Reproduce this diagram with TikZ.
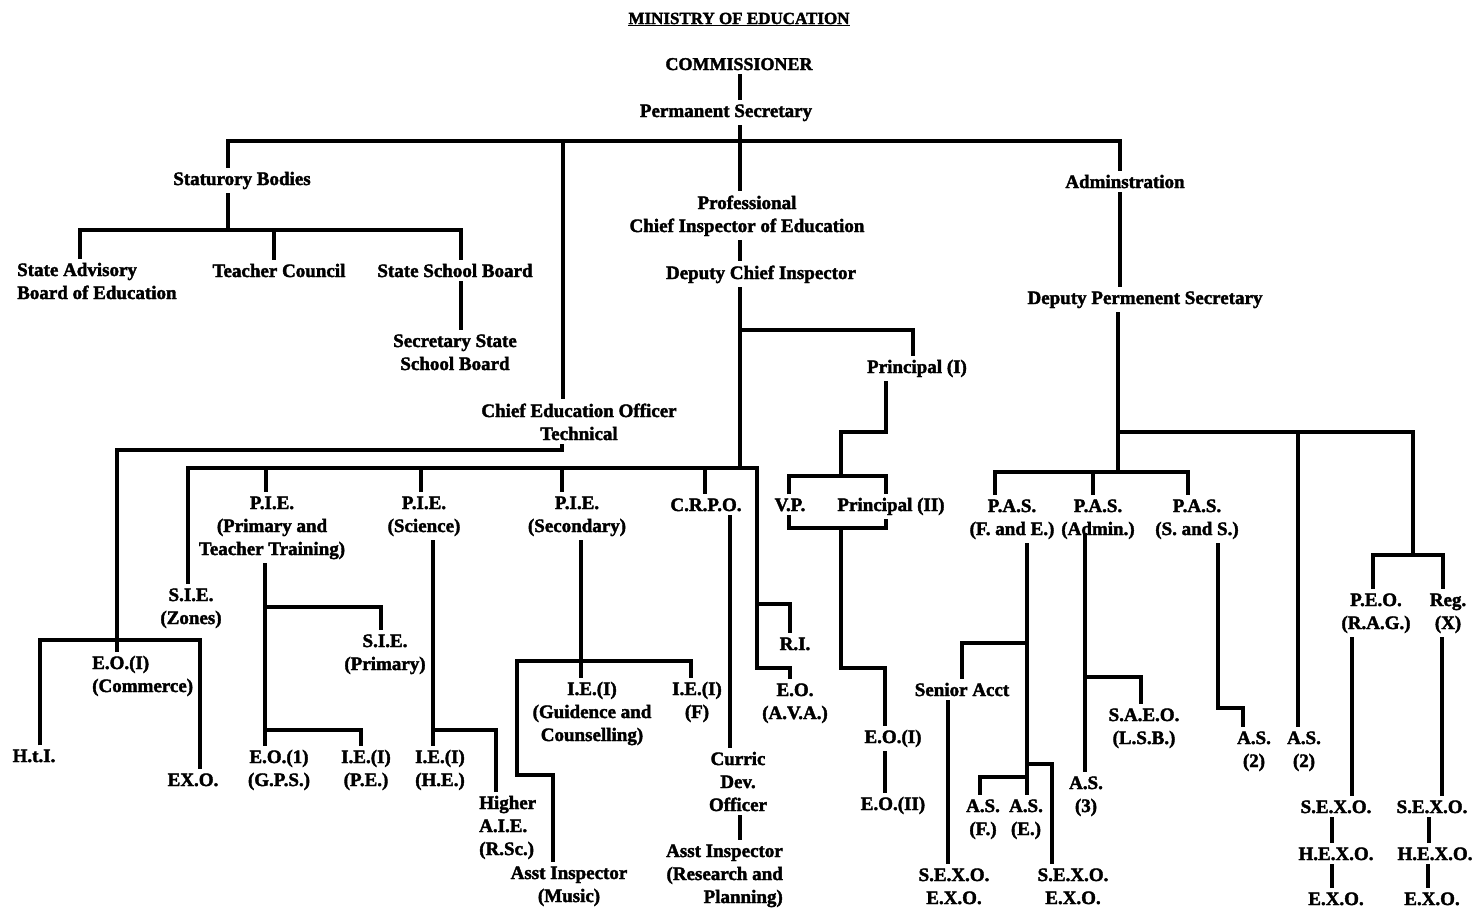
\documentclass[tikz,border=0pt]{standalone}
\usepackage{fontspec}
\setmainfont{Liberation Serif}[BoldFeatures={FakeBold=2}]
\begin{document}
\begin{tikzpicture}[x=1pt,y=-1pt,
  lbl/.style={font=\fontsize{19}{23}\selectfont\bfseries, inner xsep=2pt, inner ysep=4pt, anchor=base, align=center},
  lblL/.style={lbl, anchor=base west, align=left},
  lblR/.style={lbl, anchor=base east, align=right},
  ln/.style={line width=3.2pt, line join=miter}]
\useasboundingbox (0,0) rectangle (1476,908);

% Multi-line labels are placed by the baseline of their last line.

% ---------- top of the chart ----------
\node[font=\fontsize{17}{20}\selectfont\bfseries, inner sep=0pt, anchor=base] (title) at (739,24) {\underline{MINISTRY OF EDUCATION}};
\node[lbl, font=\fontsize{18}{22}\selectfont\bfseries] (comm) at (739,70) {COMMISSIONER};
\node[lbl] (ps)   at (726,117) {Permanent Secretary};
\node[lbl] (stat) at (242,185) {Staturory Bodies};
\node[lbl] (prof) at (747,232) {Professional\\Chief Inspector of Education};
\node[lbl] (dci)  at (761,279) {Deputy Chief Inspector};
\node[lbl] (admn) at (1125,188) {Adminstration};
\node[lbl] (dps)  at (1145,304) {Deputy Permenent Secretary};

% ---------- statutory bodies ----------
\node[lblL] (sabe) at (15,299) {State Advisory\\Board of Education};
\node[lbl] (tc)   at (279,277) {Teacher Council};
\node[lbl] (ssb)  at (455,277) {State School Board};
\node[lbl] (sssb) at (455,370) {Secretary State\\School Board};

% ---------- technical education ----------
\node[lbl]  (ceo) at (579,440) {Chief Education Officer\\Technical};
\node[lblL] (eoc) at (90,692) {E.O.(I)\\(Commerce)};
\node[lbl]  (hti) at (34,762) {H.t.I.};
\node[lbl]  (exo) at (193,786) {EX.O.};

% ---------- inspectorate ----------
\node[lbl] (siez)  at (191,624) {S.I.E.\\(Zones)};
\node[lbl] (pie1)  at (272,555) {P.I.E.\\(Primary and\\Teacher Training)};
\node[lbl] (pie2)  at (424,532) {P.I.E.\\(Science)};
\node[lbl] (pie3)  at (577,532) {P.I.E.\\(Secondary)};
\node[lbl] (crpo)  at (706,511) {C.R.P.O.};
\node[lbl] (siep)  at (385,670) {S.I.E.\\(Primary)};
\node[lbl] (eogps) at (279,786) {E.O.(1)\\(G.P.S.)};
\node[lbl] (iepe)  at (366,786) {I.E.(I)\\(P.E.)};
\node[lbl] (iehe)  at (440,786) {I.E.(I)\\(H.E.)};
\node[lblL] (haie) at (477,855) {Higher\\A.I.E.\\(R.Sc.)};
\node[lbl] (iegc)  at (592,741) {I.E.(I)\\(Guidence and\\Counselling)};
\node[lbl] (ief)   at (697,718) {I.E.(I)\\(F)};
\node[lbl] (aim)   at (569,902) {Asst Inspector\\(Music)};
\node[lbl] (ri)    at (795,650) {R.I.};
\node[lbl] (eoava) at (795,719) {E.O.\\(A.V.A.)};
\node[lbl] (cdo)   at (738,811) {Curric\\Dev.\\Officer};
\node[lblR] (airp) at (785,903) {Asst Inspector\\(Research and\\Planning)};

% ---------- principals ----------
\node[lbl] (p1)  at (917,373) {Principal (I)};
\node[lbl] (vp)  at (790,511) {V.P.};
\node[lbl] (p2)  at (891,511) {Principal (II)};
\node[lbl] (eo1) at (893,743) {E.O.(I)};
\node[lbl] (eo2) at (893,810) {E.O.(II)};

% ---------- administration ----------
\node[lbl] (pasfe) at (1012,535) {P.A.S.\\(F. and E.)};
\node[lbl] (pasad) at (1098,535) {P.A.S.\\(Admin.)};
\node[lbl] (passs) at (1197,535) {P.A.S.\\(S. and S.)};
\node[lbl] (sa)    at (962,696) {Senior Acct};
\node[lbl] (asf)   at (983,835) {A.S.\\(F.)};
\node[lbl] (ase)   at (1026,835) {A.S.\\(E.)};
\node[lbl] (sxa)   at (954,904) {S.E.X.O.\\E.X.O.};
\node[lbl] (sxb)   at (1073,904) {S.E.X.O.\\E.X.O.};
\node[lbl] (saeo)  at (1144,744) {S.A.E.O.\\(L.S.B.)};
\node[lbl] (as3)   at (1086,812) {A.S.\\(3)};
\node[lbl] (as2a)  at (1254,767) {A.S.\\(2)};
\node[lbl] (as2b)  at (1304,767) {A.S.\\(2)};
\node[lbl] (peo)   at (1376,629) {P.E.O.\\(R.A.G.)};
\node[lbl] (reg)   at (1448,629) {Reg.\\(X)};
\node[lbl] (sx1)   at (1336,813) {S.E.X.O.};
\node[lbl] (hx1)   at (1336,860) {H.E.X.O.};
\node[lbl] (ex1)   at (1336,905) {E.X.O.};
\node[lbl] (sx2)   at (1432,813) {S.E.X.O.};
\node[lbl] (hx2)   at (1435,860) {H.E.X.O.};
\node[lbl] (ex2)   at (1432,905) {E.X.O.};

\coordinate (admtap) at (1085,533);

% ---------- connectors ----------
\draw[ln] (comm.south -| 740,0) -- (ps.north -| 740,0);
\draw[ln] (ps.south -| 740,0) -- (prof.north -| 740,0);
\draw[ln] (stat.north -| 228,0) -- (228,141) -- (1120,141) -- (admn.north -| 1120,0);
\draw[ln] (563,141) -- (ceo.north -| 563,0);

\draw[ln] (stat.south -| 228,0) -- (228,230);
\draw[ln] (sabe.north -| 80,0) |- (461,230) -- (ssb.north -| 461,0);
\draw[ln] (274,230) -- (tc.north -| 274,0);
\draw[ln] (ssb.south -| 461,0) -- (sssb.north -| 461,0);

\draw[ln] (prof.south -| 740,0) -- (dci.north -| 740,0);
\draw[ln] (dci.south -| 740,0) -- (740,468);
\draw[ln] (740,330) -| (p1.north -| 913,0);
\draw[ln] (siez.north -| 188,0) |- (757,468) -- (757,668) -| (eoava.north -| 790,0);
\draw[ln] (757,604) -| (ri.north -| 790,0);
\draw[ln] (266,468) -- (pie1.north -| 266,0);
\draw[ln] (421,468) -- (pie2.north -| 421,0);
\draw[ln] (562,468) -- (pie3.north -| 562,0);
\draw[ln] (705,468) -- (crpo.north -| 705,0);

% principals
\draw[ln] (p1.south -| 886,0) |- (841,432) -- (841,476);
\draw[ln] (vp.north -| 789,0) |- (886,476) -- (p2.north -| 886,0);
\draw[ln] (vp.south -| 789,0) |- (886,528) -- (p2.south -| 886,0);
\draw[ln] (841,528) -- (841,668) -| (eo1.north -| 885,0);
\draw[ln] (eo1.south -| 885,0) -- (eo2.north -| 885,0);

% technical
\draw[ln] (ceo.south -| 562,0) |- (117,450) -- (eoc.north -| 117,0);
\draw[ln] (hti.north -| 40,0) |- (200,640) -- (exo.north -| 200,0);

% primary and teacher training
\draw[ln] (pie1.south -| 265,0) -- (eogps.north -| 265,0);
\draw[ln] (265,607) -| (siep.north -| 381,0);
\draw[ln] (265,730) -| (iepe.north -| 361,0);
% science
\draw[ln] (pie2.south -| 433,0) -- (iehe.north -| 433,0);
\draw[ln] (433,730) -| (haie.north -| 496,0);
% secondary
\draw[ln] (pie3.south -| 581,0) -- (iegc.north -| 581,0);
\draw[ln] (ief.north -| 691,0) |- (517,661) |- (553,775) -- (aim.north -| 553,0);
% curriculum
\draw[ln] (crpo.south -| 730,0) -- (cdo.north -| 730,0);
\draw[ln] (cdo.south -| 740,0) -- (airp.north -| 740,0);

% administration
\draw[ln] (admn.south -| 1120,0) -- (dps.north -| 1120,0);
\draw[ln] (dps.south -| 1118,0) -- (1118,472);
\draw[ln] (1118,432) -| (1413,555);
\draw[ln] (peo.north -| 1373,0) |- (1443,555) -- (reg.north -| 1443,0);
\draw[ln] (1298,432) -- (as2b.north -| 1298,0);
\draw[ln] (pasfe.north -| 995,0) |- (1188,472) -- (passs.north -| 1188,0);
\draw[ln] (1093,472) -- (pasad.north -| 1093,0);

\draw[ln] (pasfe.south -| 1027,0) -- (ase.north -| 1027,0);
\draw[ln] (1027,643) -| (sa.north -| 962,0);
\draw[ln] (1027,777) -| (asf.north -| 980,0);
\draw[ln] (1027,764) -| (sxb.north -| 1052,0);
\draw[ln] (sa.south -| 948,0) -- (sxa.north -| 948,0);

\draw[ln] (admtap) -- (as3.north -| 1085,0);
\draw[ln] (1085,677) -| (saeo.north -| 1141,0);
\draw[ln] (passs.south -| 1218,0) |- (1243,708) -- (as2a.north -| 1243,0);

\draw[ln] (peo.south -| 1352,0) -- (sx1.north -| 1352,0);
\draw[ln] (sx1.south -| 1332,0) -- (hx1.north -| 1332,0);
\draw[ln] (hx1.south -| 1332,0) -- (ex1.north -| 1332,0);
\draw[ln] (reg.south -| 1442,0) -- (sx2.north -| 1442,0);
\draw[ln] (sx2.south -| 1429,0) -- (hx2.north -| 1429,0);
\draw[ln] (hx2.south -| 1428,0) -- (ex2.north -| 1428,0);
\end{tikzpicture}
\end{document}
